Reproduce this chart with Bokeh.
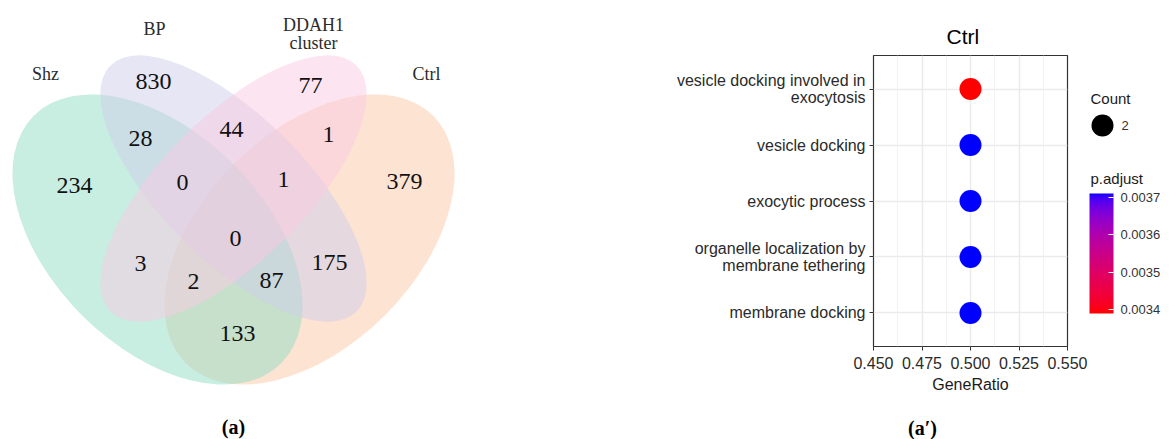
import numpy as np
from bokeh.plotting import figure
from bokeh.layouts import row, column
from bokeh.models import (ColumnDataSource, Range1d, FixedTicker, ColorBar,
                          LinearColorMapper, PrintfTickFormatter)
from bokeh.core.properties import value
from bokeh.embed import file_html
from bokeh.resources import INLINE

# ---------------- data: Venn (a) ----------------
set_names = ["Shz", "BP", "DDAH1\ncluster", "Ctrl"]
region_names = ["BP", "DDAH1", "Shz", "Ctrl", "Shz&BP", "BP&DDAH1", "DDAH1&Ctrl",
                "Shz&BP&DDAH1", "BP&DDAH1&Ctrl", "all", "Shz&DDAH1",
                "Shz&DDAH1&Ctrl", "Shz&BP&Ctrl", "BP&Ctrl", "Shz&Ctrl"]
region_counts = [830, 77, 234, 379, 28, 44, 1, 0, 1, 0, 3, 2, 87, 175, 133]

# ---------------- data: dot plot (a') ----------------
terms = ["membrane docking",
         "organelle localization by\nmembrane tethering",
         "exocytic process",
         "vesicle docking",
         "vesicle docking involved in\nexocytosis"]
gene_ratio = [0.5, 0.5, 0.5, 0.5, 0.5]
counts = [2, 2, 2, 2, 2]
p_adjust = [0.00371, 0.00371, 0.00371, 0.00371, 0.00339]
x_ticks = [0.450, 0.475, 0.500, 0.525, 0.550]
cbar_ticks = [0.0034, 0.0035, 0.0036, 0.0037]
legend_count = ["2"]

# ---------------- layout / style (reference pixel space) ----------------
H = 439  # y_data = H - y_pixel
ell_order = [3, 0, 1, 2]                   # draw order: Ctrl, Shz, BP, DDAH1
ell_cx = [157, 233, 233, 309]
ell_cy = [239, 188, 188, 239]
ell_w = [350, 348, 348, 350]
ell_h = [214, 144, 144, 214]
ell_ang = [-np.pi / 4, -np.pi / 4, np.pi / 4, np.pi / 4]
ell_col = ["#91ddc5", "#cdcde9", "#f9c9e1", "#fbc7a5"]
set_lx = [45, 154, 313, 426]
set_ly = [73, 28, 33, 73]
reg_x = [153, 310, 74, 404, 140, 231, 328, 182, 283, 235, 140, 193, 271, 329, 237]
reg_y = [81, 85, 185, 181, 138, 129, 134, 182, 179, 238, 263, 281, 280, 262, 333]


# red -> blue gradient interpolated in CIE Lab (like ggplot2)
M = np.array([[0.4124, 0.3576, 0.1805], [0.2126, 0.7152, 0.0722], [0.0193, 0.1192, 0.9505]])
Minv = np.linalg.inv(M)
WHITE = M @ np.ones(3)


def _lin(c):
    c = np.asarray(c, float) / 255.0
    return np.where(c <= 0.04045, c / 12.92, ((c + 0.055) / 1.055) ** 2.4)


def _gam(c):
    c = np.clip(c, 0, 1)
    return np.where(c <= 0.0031308, 12.92 * c, 1.055 * c ** (1 / 2.4) - 0.055) * 255


def _f(t):
    d = 6 / 29
    return np.where(t > d ** 3, np.cbrt(t), t / (3 * d * d) + 4 / 29)


def _finv(t):
    d = 6 / 29
    return np.where(t > d, t ** 3, 3 * d * d * (t - 4 / 29))


def rgb2lab(rgb):
    fx, fy, fz = _f((M @ _lin(rgb)) / WHITE)
    return np.array([116 * fy - 16, 500 * (fx - fy), 200 * (fy - fz)])


def lab2hex(lab):
    L, a, b = lab
    fy = (L + 16) / 116
    xyz = WHITE * _finv(np.array([fy + a / 500, fy, fy - b / 200]))
    r, g, bb = _gam(Minv @ xyz)
    return "#%02x%02x%02x" % (int(round(r)), int(round(g)), int(round(bb)))


lab_lo, lab_hi = rgb2lab([255, 0, 0]), rgb2lab([0, 0, 255])
palette = [lab2hex(lab_lo + (lab_hi - lab_lo) * t) for t in np.linspace(0, 1, 256)]

# ================= (a) Venn diagram =================
p1 = figure(width=640, height=439, x_range=Range1d(0, 640), y_range=Range1d(0, H),
            x_axis_type=None, y_axis_type=None, toolbar_location=None,
            output_backend="svg", min_border=0, outline_line_color=None)
p1.frame_align = False
p1.grid.visible = False
for i in ell_order:
    p1.ellipse(x=[ell_cx[i]], y=[H - ell_cy[i]], width=[ell_w[i]], height=[ell_h[i]],
               angle=[ell_ang[i]], fill_color=ell_col[i], fill_alpha=0.5, line_color=None)

p1.text(x=set_lx, y=[H - v for v in set_ly], text=set_names,
        text_font=value("Liberation Serif"), text_font_size="18px",
        text_color="#2b2b2b", text_align="center", text_baseline="middle",
        text_line_height=0.9)
p1.text(x=reg_x, y=[H - v for v in reg_y], text=[str(c) for c in region_counts],
        text_font=value("Liberation Serif"), text_font_size="24px",
        text_color="#111111", text_align="center", text_baseline="middle")
p1.text(x=[233], y=[H - 426], text=["(a)"], text_font=value("Liberation Serif"),
        text_font_size="20px", text_font_style="bold", text_color="#000000",
        text_align="center", text_baseline="middle")

# ================= (a') dot plot =================
src = ColumnDataSource(dict(ratio=gene_ratio, pos=list(range(1, len(terms) + 1)),
                            padj=p_adjust, count=counts))
mapper = LinearColorMapper(palette=palette, low=min(p_adjust), high=max(p_adjust))

X0 = 1089      # start of legend column
CAP_TOP = 415  # caption strip below the dot plot
p2 = figure(width=X0 - 640, height=CAP_TOP, x_range=Range1d(x_ticks[0], x_ticks[-1]),
            y_range=Range1d(0.4, len(terms) + 0.6), toolbar_location=None,
            output_backend="svg", min_border_left=233, min_border_right=X0 - 1067,
            min_border_top=55, min_border_bottom=CAP_TOP - 346, title="Ctrl")
p2.frame_align = False
p2.scatter("ratio", "pos", source=src, size=22,
           fill_color={"field": "padj", "transform": mapper}, line_color=None)

p2.title.text_font = "Liberation Sans"
p2.title.text_font_size = "21px"
p2.title.text_font_style = "normal"
p2.title.text_color = "#000000"
p2.title.align = "left"
p2.title.offset = 73
p2.title.standoff = 15

minor = [(a + b) / 2 for a, b in zip(x_ticks[:-1], x_ticks[1:])]
p2.xaxis.ticker = FixedTicker(ticks=x_ticks, minor_ticks=minor)
p2.xaxis.formatter = PrintfTickFormatter(format="%.3f")
p2.yaxis.ticker = FixedTicker(ticks=list(range(1, len(terms) + 1)))
p2.yaxis.major_label_overrides = {i + 1: t for i, t in enumerate(terms)}

for ax in (p2.xaxis[0], p2.yaxis[0]):
    ax.axis_line_color = None
    ax.major_tick_line_color = "#333333"
    ax.major_tick_out = 4
    ax.major_tick_in = 0
    ax.minor_tick_line_color = None
    ax.major_label_text_font = "Liberation Sans"
    ax.major_label_text_font_size = "16px"
    ax.major_label_text_color = "#2a2a2a"
    ax.major_label_text_line_height = 1.0
p2.yaxis.major_label_standoff = 4
p2.xaxis.major_label_standoff = 6
p2.xaxis.axis_label = "GeneRatio"
p2.xaxis.axis_label_text_font = "Liberation Sans"
p2.xaxis.axis_label_text_font_size = "16px"
p2.xaxis.axis_label_text_font_style = "normal"
p2.xaxis.axis_label_text_color = "#1a1a1a"
p2.xaxis.axis_label_standoff = 4

p2.outline_line_color = "#333333"
p2.outline_line_width = 1.2
p2.xgrid.grid_line_color = "#ebebeb"
p2.xgrid.grid_line_width = 1.5
p2.xgrid.minor_grid_line_color = "#f2f2f2"
p2.xgrid.minor_grid_line_width = 1
p2.ygrid.grid_line_color = "#ebebeb"
p2.ygrid.grid_line_width = 1.5

# caption strip under the dot plot
p4 = figure(width=X0 - 640, height=H - CAP_TOP, x_range=Range1d(640, X0),
            y_range=Range1d(0, H - CAP_TOP), x_axis_type=None, y_axis_type=None,
            toolbar_location=None, output_backend="svg", min_border=0,
            outline_line_color=None)
p4.frame_align = False
p4.grid.visible = False
p4.text(x=[922], y=[H - 427], text=["(a\u2032)"], text_font=value("Liberation Serif"),
        text_font_size="20px", text_font_style="bold", text_color="#000000",
        text_align="center", text_baseline="middle")

# ================= legend column =================
p3 = figure(width=1172 - X0, height=439, x_range=Range1d(X0, 1172), y_range=Range1d(0, H),
            x_axis_type=None, y_axis_type=None, toolbar_location=None,
            output_backend="svg", min_border=0, outline_line_color=None)
p3.frame_align = False
p3.grid.visible = False
p3.text(x=[1090, 1090], y=[H - 98, H - 178], text=["Count", "p.adjust"],
        text_font=value("Liberation Sans"), text_font_size="15px",
        text_color="#1a1a1a", text_baseline="middle")
p3.scatter(x=[1102], y=[H - 125], size=22, fill_color="black", line_color=None)
p3.text(x=[1121], y=[H - 125], text=legend_count, text_font=value("Liberation Sans"),
        text_font_size="13px", text_color="#333333", text_baseline="middle")

cbar = ColorBar(color_mapper=mapper, orientation="vertical", location=(1089 - X0, H - 313),
                width=24, height=120, padding=0, title=None,
                ticker=FixedTicker(ticks=cbar_ticks),
                formatter=PrintfTickFormatter(format="%.4f"),
                major_label_text_font="Liberation Sans", major_label_text_font_size="13px",
                major_label_text_color="#333333", label_standoff=7,
                major_tick_line_color="white", major_tick_in=5, major_tick_out=0,
                minor_tick_line_color=None, bar_line_color=None,
                border_line_color=None, background_fill_alpha=0)
p3.add_layout(cbar, "center")

layout = row(p1, column(p2, p4), p3)
open("out.html", "w").write(file_html(layout, INLINE))
